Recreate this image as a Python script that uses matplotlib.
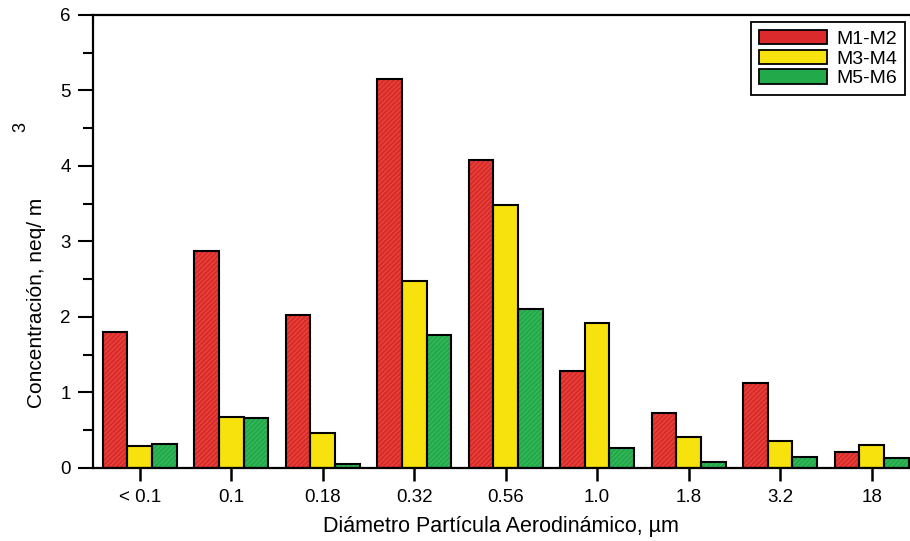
import matplotlib
matplotlib.use("Agg")
import matplotlib.pyplot as plt
import numpy as np

plt.rcParams['font.family'] = ['Liberation Sans', 'DejaVu Sans']
plt.rcParams['hatch.linewidth'] = 0.7

# Particle size classes (aerodynamic diameter, µm)
categories = ["< 0.1", "0.1", "0.18", "0.32", "0.56", "1.0", "1.8", "3.2", "18"]

# Concentration (neq/m3) per sampling pair
m1_m2 = [1.80, 2.87, 2.03, 5.15, 4.08, 1.28, 0.73, 1.13, 0.21]
m3_m4 = [0.29, 0.68, 0.46, 2.48, 3.48, 1.92, 0.41, 0.36, 0.30]
m5_m6 = [0.32, 0.66, 0.05, 1.76, 2.10, 0.26, 0.08, 0.15, 0.13]

series_labels = ["M1-M2", "M3-M4", "M5-M6"]
fills = ["#db2a2c", "#f8e20e", "#22aa4a"]
hatch_cols = ["#e8503f", None, "#40ba62"]

fig = plt.figure(figsize=(9.10, 5.41), dpi=100)
ax = fig.add_axes([0.102, 0.135, 0.898, 0.8375])

x = np.arange(len(categories))
width = 0.27
offsets = [-width, 0.0, width]
handles = []
for vals, off, fc, hc, lab in zip([m1_m2, m3_m4, m5_m6], offsets, fills, hatch_cols, series_labels):
    if hc is not None:
        ax.bar(x + off, vals, width, color=fc, edgecolor=hc, hatch='///////', linewidth=0, zorder=2)
    else:
        ax.bar(x + off, vals, width, color=fc, linewidth=0, zorder=2)
    ax.bar(x + off, vals, width, facecolor='none', edgecolor='black', linewidth=1.5, zorder=3)
    handles.append(plt.Rectangle((0, 0), 1, 1, facecolor=fc, edgecolor='black', linewidth=1.3))

ax.set_xlim(-0.513, 8.42)
ax.set_ylim(0, 6)
ax.set_xticks(x)
ax.set_xticklabels(categories, fontsize=13.5)
ax.set_yticks(np.arange(0, 7, 1))
ax.set_yticks(np.arange(0.5, 6, 1), minor=True)
ax.tick_params(axis='y', which='major', length=11, width=1.5, direction='out', labelsize=13.5, pad=5)
ax.tick_params(axis='y', which='minor', length=7, width=1.5, direction='out')
ax.tick_params(axis='x', which='major', length=9, width=1.8, direction='out', labelsize=13.5, pad=6)

for s in ['left', 'bottom', 'top']:
    ax.spines[s].set_linewidth(1.6)
ax.spines['right'].set_visible(False)

ax.set_xlabel("Diámetro Partícula Aerodinámico, µm", fontsize=15.5, labelpad=7)
fig.text(0.040, 0.44, "Concentración, neq/ m", rotation=90, fontsize=15,
         ha='center', va='center')
fig.text(0.023, 0.765, "3", rotation=90, fontsize=13, ha='center', va='center')

leg = fig.legend(handles, series_labels, loc='upper right',
                 bbox_to_anchor=(905 / 910, 1 - 22 / 541), borderaxespad=0,
                 fontsize=14, handlelength=3.5, handleheight=0.75, handletextpad=0.5,
                 labelspacing=0.1, borderpad=0.4, fancybox=False, framealpha=1)
leg.get_frame().set_edgecolor('black')
leg.get_frame().set_linewidth(1.3)

fig.savefig("out.png", dpi=100)
